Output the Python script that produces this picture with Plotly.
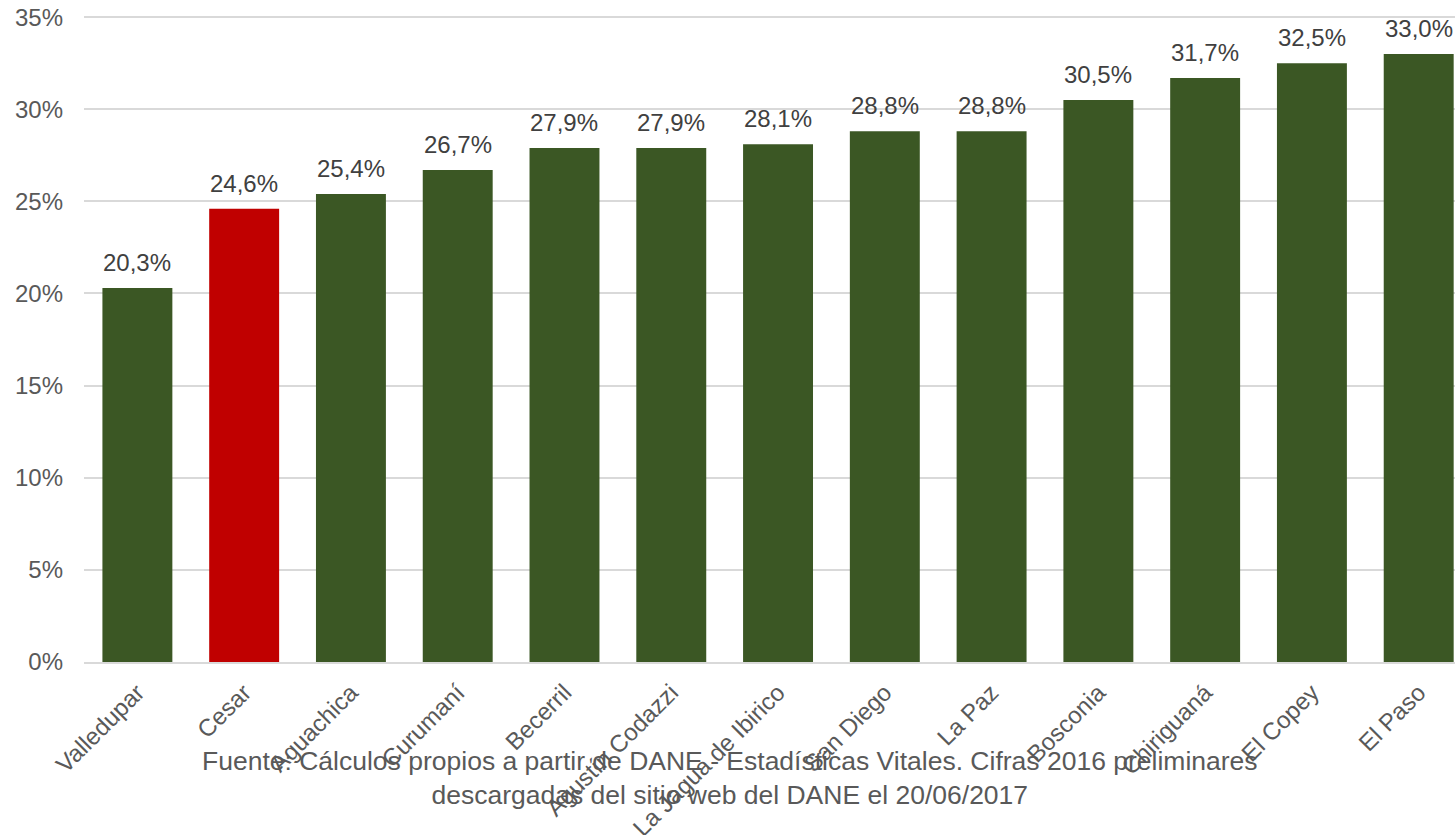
import plotly.graph_objects as go

categories = ["Valledupar", "Cesar", "Aguachica", "Curumaní", "Becerril", "Agustín Codazzi",
              "La Jagua de Ibirico", "San Diego", "La Paz", "Bosconia", "Chiriguaná", "El Copey", "El Paso"]
values = [20.3, 24.6, 25.4, 26.7, 27.9, 27.9, 28.1, 28.8, 28.8, 30.5, 31.7, 32.5, 33.0]
highlight = "Cesar"
y_ticks = [0, 5, 10, 15, 20, 25, 30, 35]
source_text = ("Fuente: Cálculos propios a partir de DANE - Estadísticas Vitales. Cifras 2016 preliminares"
               "<br>descargadas del sitio web del DANE el 20/06/2017")

GREEN = "#3B5724"
RED = "#C00000"
colors = [RED if c == highlight else GREEN for c in categories]
FONT = "Liberation Sans, Arial"

fig = go.Figure()
fig.add_trace(go.Bar(
    x=categories, y=values, marker=dict(color=colors, line=dict(width=0)),
    hoverinfo="skip",
))

for c, v in zip(categories, values):
    fig.add_annotation(
        x=c, y=v, xref="x", yref="y", text=f"{v:.1f}%".replace(".", ","),
        showarrow=False, yanchor="bottom", yshift=10,
        font=dict(family=FONT, size=24, color="#404040"),
    )

fig.add_annotation(
    xref="paper", yref="paper", x=0.471, y=-0.18, xanchor="center", yanchor="middle",
    text=source_text, showarrow=False, align="center",
    font=dict(family=FONT, size=26.5, color="#595959"),
)

fig.update_layout(
    width=1455, height=835,
    margin=dict(l=84, r=0, t=16, b=173),
    paper_bgcolor="white", plot_bgcolor="white",
    bargap=0.345, showlegend=False,
    font=dict(family=FONT, color="#595959"),
)
fig.update_xaxes(
    range=[-0.5, 12.34], tickangle=-45, showgrid=False,
    showline=True, linecolor="#D9D9D9", linewidth=2,
    tickfont=dict(size=24, color="#595959"), ticks="", ticklabelstandoff=5,
    automargin=False, ticklabeloverflow="allow",
)
fig.update_yaxes(
    range=[0, 35.06], tickvals=y_ticks, ticktext=[f"{t}%" for t in y_ticks],
    showgrid=True, gridcolor="#D9D9D9", gridwidth=2, zeroline=False,
    tickfont=dict(size=24, color="#595959"), ticks="", ticklabelstandoff=20,
    automargin=False, ticklabeloverflow="allow",
)

fig.write_html(
    "out.html",
    config={"displayModeBar": False, "staticPlot": True},
    post_script="document.body.style.margin='0';document.body.style.overflow='hidden';",
)
